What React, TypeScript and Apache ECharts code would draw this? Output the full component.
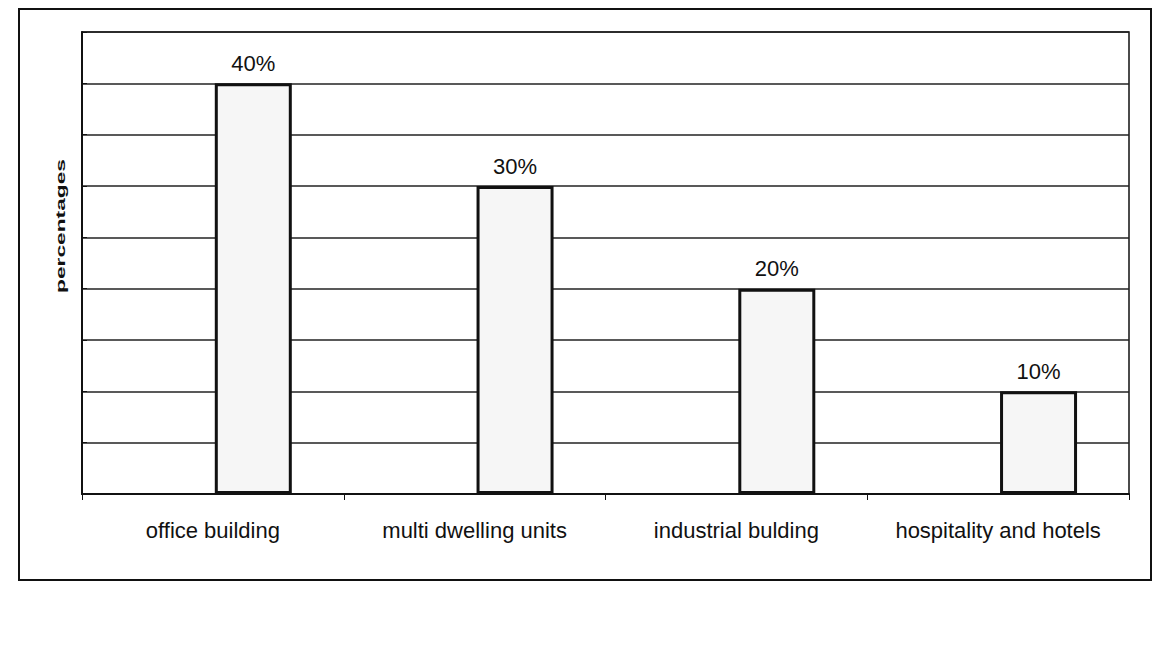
import React, { useEffect, useRef } from "react";
import * as echarts from "echarts";

const categories = ["office building", "multi dwelling units", "industrial bulding", "hospitality and hotels"];
const shares = [40, 30, 20, 10];
const spacer = [0, 0, 0, 0];
const yAxisName = "percentages";

export default function App() {
  const ref = useRef<HTMLDivElement>(null);
  useEffect(() => {
    if (!ref.current) return;
    const chart = echarts.init(ref.current, null, { renderer: "svg" });
    const font = "Liberation Sans, Arial, sans-serif";
    chart.setOption({
      animation: false,
      backgroundColor: "#ffffff",
      grid: {
        left: 82,
        right: 26,
        top: 32,
        bottom: 160,
        show: true,
        borderColor: "#111",
        borderWidth: 1.5,
        backgroundColor: "transparent",
      },
      xAxis: {
        type: "category",
        data: categories,
        axisLine: { show: true, lineStyle: { color: "#111", width: 2 } },
        axisTick: { show: true, interval: 0, length: 6, lineStyle: { color: "#111", width: 1 } },
        axisLabel: { color: "#111", fontSize: 22, fontFamily: font, margin: 25, interval: 0, hideOverlap: false },
      },
      yAxis: {
        type: "value",
        min: 0,
        max: 45,
        interval: 5,
        axisLine: { show: true, lineStyle: { color: "#111", width: 2 } },
        axisTick: { show: true, inside: true, length: 5, lineStyle: { color: "#111" } },
        axisLabel: { show: false },
        splitLine: { show: true, lineStyle: { color: "#222", width: 1.5 } },
      },
      graphic: [
        {
          type: "rect",
          shape: { x: 19, y: 9, width: 1132, height: 571 },
          style: { fill: "none", stroke: "#111", lineWidth: 2 },
          z: 0,
        },
        {
          type: "text",
          x: 60,
          y: 226,
          rotation: Math.PI / 2,
          scaleX: 1.75,
          style: {
            text: yAxisName,
            fontSize: 13,
            fontWeight: "bold",
            fontFamily: font,
            fill: "#111",
            align: "center",
            verticalAlign: "middle",
          },
        },
      ],
      series: [
        {
          type: "bar",
          data: spacer,
          barWidth: 77,
          barGap: "5%",
          itemStyle: { color: "transparent" },
          silent: true,
        },
        {
          type: "bar",
          data: shares,
          barWidth: 77,
          itemStyle: { color: "#f6f6f6", borderColor: "#111", borderWidth: 3 },
          label: {
            show: true,
            position: "top",
            distance: 9,
            formatter: "{c}%",
            fontSize: 22,
            fontFamily: font,
            color: "#111",
          },
        },
      ],
    });
    return () => chart.dispose();
  }, []);
  return (
    <div
      ref={ref}
      style={{ position: "absolute", left: 0, top: 0, width: 1155, height: 654 }}
    />
  );
}
